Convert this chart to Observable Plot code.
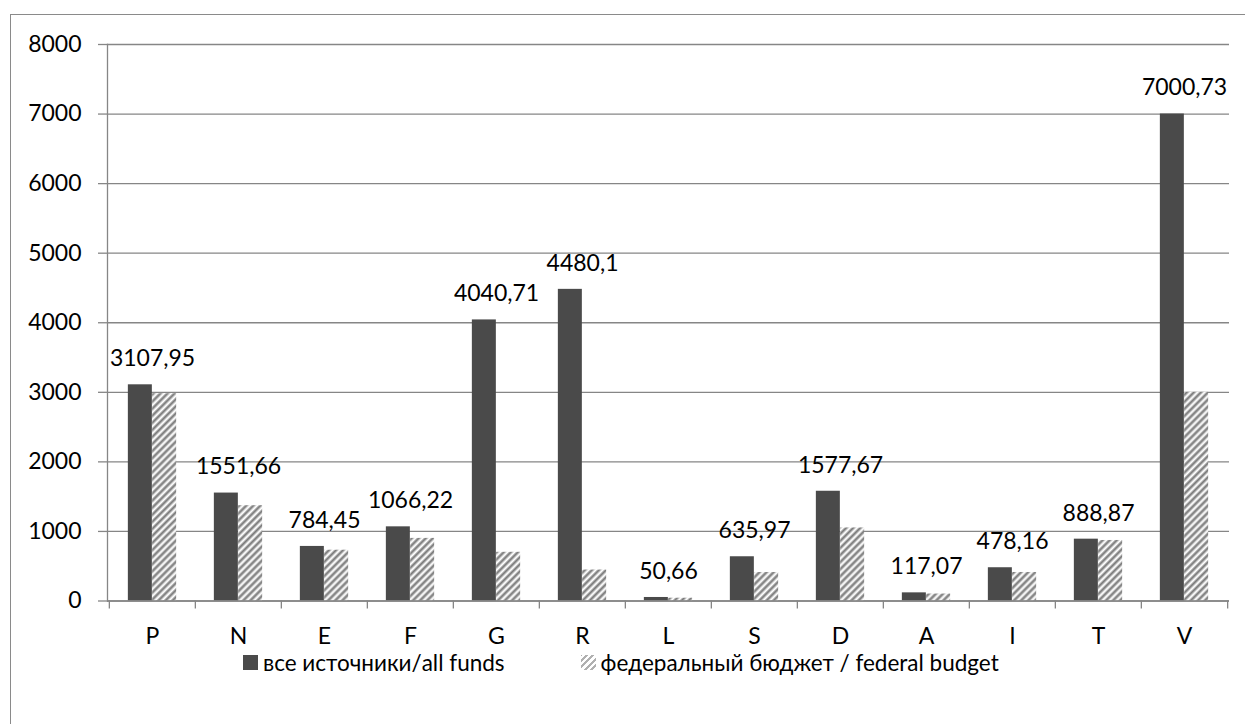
<!DOCTYPE html>
<html>
<head>
<meta charset="utf-8">
<script src="https://cdn.jsdelivr.net/npm/d3@7"></script>
<script src="https://cdn.jsdelivr.net/npm/@observablehq/plot@0.6"></script>
<style>
  html, body { margin: 0; padding: 0; background: #fff; overflow: hidden; }
  body { width: 1245px; height: 724px; position: relative; font-family: Lato, "Open Sans", sans-serif; }
  #frame { position: absolute; left: 10px; top: 14px; width: 1300px; height: 800px; border: 1.5px solid #8a8a8a; box-sizing: border-box; }
  #chart { position: absolute; left: 0; top: 0; }
  #legend { position: absolute; left: 243px; top: 649px; display: flex; align-items: center; font-size: 22.5px; color: #000; font-family: Lato, sans-serif; }
  .item { display: flex; align-items: center; }
  .sw { width: 15px; height: 15px; display: inline-block; margin-right: 5px; }
  .dark { background: #4a4a4a; }
  .hatch { background: repeating-linear-gradient(-45deg, #fff 0 2.5px, #b0b0b0 2.5px 4.5px); }
</style>
</head>
<body>
<div id="frame"></div>
<div id="chart"></div>
<div id="legend">
  <div class="item" style="margin-right:76px"><span class="sw dark"></span><span>все источники/all funds</span></div>
  <div class="item"><span class="sw hatch"></span><span>федеральный бюджет / federal budget</span></div>
</div>
<script>
const categories = ["P","N","E","F","G","R","L","S","D","A","I","T","V"];
const allFunds = [3107.95,1551.66,784.45,1066.22,4040.71,4480.1,50.66,635.97,1577.67,117.07,478.16,888.87,7000.73];
const federalBudget = [2980,1370,730,900,700,445,40,410,1050,100,410,870,3000];
const yTicks = [0,1000,2000,3000,4000,5000,6000,7000,8000];

const data = categories.map((c, i) => ({cat: c, all: allFunds[i], fed: federalBudget[i], label: String(allFunds[i]).replace(".", ",")}));

const W = 1245, H = 640, ML = 107, MR = 16, MT = 44, MB = 39.5;
const bw = (W - ML - MR) / categories.length;
const barW = 24.3;
const side = (bw - 2 * barW) / 2;
const FONT = 23;

const defs = () => {
  const ns = "http://www.w3.org/2000/svg";
  const d = document.createElementNS(ns, "defs");
  d.innerHTML = `<pattern id="hatch" width="5" height="5" patternUnits="userSpaceOnUse" patternTransform="rotate(45)">
      <rect width="5" height="5" fill="#ffffff"/>
      <rect x="0" width="0.7" height="5" fill="#b4b4b4"/>
      <rect x="0.7" width="2.1" height="5" fill="#7a7a7a"/>
      <rect x="2.8" width="0.6" height="5" fill="#c4c4c4"/>
    </pattern>`;
  return d;
};

const chart = Plot.plot({
  width: W, height: H,
  marginLeft: ML, marginRight: MR, marginTop: MT, marginBottom: MB,
  style: {fontFamily: "Lato, sans-serif", fontSize: FONT + "px", color: "#000", background: "transparent", overflow: "visible"},
  x: {type: "band", domain: categories, padding: 0, label: null},
  y: {domain: [0, 8000], label: null},
  marks: [
    defs,
    Plot.gridY(yTicks, {stroke: "#868686", strokeOpacity: 1, strokeWidth: 1.3}),
    Plot.barY(data, {x: "cat", y: "all", fill: "#4a4a4a", insetLeft: side, insetRight: bw - side - barW}),
    Plot.barY(data, {x: "cat", y: "fed", fill: "url(#hatch)", insetLeft: side + barW, insetRight: side}),
    Plot.frame({anchor: "left", stroke: "#868686", strokeWidth: 1.3}),
    Plot.ruleY([0], {stroke: "#868686", strokeWidth: 1.5}),
    Plot.axisY({ticks: yTicks, tickSize: 9, tickPadding: 17, stroke: "#868686", strokeWidth: 1.3, fill: "#000", fontSize: FONT, tickFormat: d => String(d)}),
    Plot.axisX({ticks: categories, tickSize: 8, tickFormat: () => "", stroke: "#868686", strokeWidth: 1.3, dx: -bw / 2}),
    Plot.axisX({ticks: ["V"], tickSize: 8, tickFormat: () => "", stroke: "#868686", strokeWidth: 1.3, dx: bw / 2}),
    Plot.axisX({ticks: categories, tickSize: 0, tickPadding: 27, fill: "#000", fontSize: FONT}),
    Plot.text(data, {x: "cat", y: "all", text: "label", dy: -26, fill: "#000", fontSize: FONT})
  ]
});
document.getElementById("chart").appendChild(chart);
</script>
</body>
</html>
